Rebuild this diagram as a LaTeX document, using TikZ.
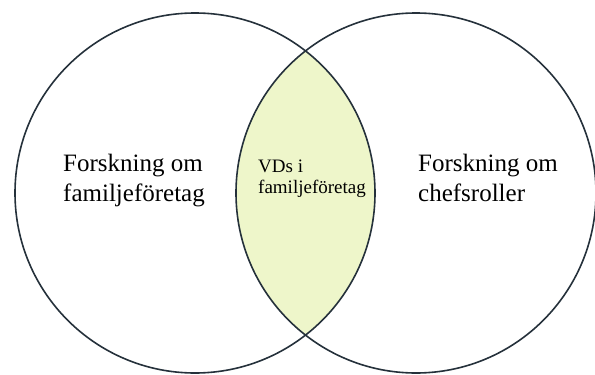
\documentclass[tikz,border=0pt]{standalone}
\usepackage{fontspec}
\setmainfont{Liberation Serif}
\definecolor{ringline}{HTML}{25313B}
\definecolor{lensfill}{HTML}{EEF6CA}
\begin{document}
\begin{tikzpicture}[x=1pt,y=-1pt,
  ring/.style={circle, draw=ringline, line width=1.6pt, minimum size=360pt, inner sep=0pt},
  bigtext/.style={anchor=base west, align=left, inner sep=0pt, font=\fontsize{25}{30}\selectfont},
  smalltext/.style={anchor=base west, align=left, inner sep=0pt, font=\fontsize{19}{21.5}\selectfont}]
  \useasboundingbox (0,0) rectangle (595,375);
  % overlap of the two fields
  \begin{scope}
    \clip (195,193) circle (180);
    \fill[lensfill] (416,193) circle (180);
  \end{scope}
  \node[ring] (left) at (195,193) {};
  \node[ring] (right) at (416,193) {};
  % labels (anchored on the baseline of the last line)
  \node[bigtext] (ltext) at (63,201.5) {Forskning om\\familjeföretag};
  \node[bigtext] (rtext) at (418,201) {Forskning om\\chefsroller};
  \node[smalltext] (mtext) at (258,193.5) {VDs i\\familjeföretag};
\end{tikzpicture}
\end{document}
